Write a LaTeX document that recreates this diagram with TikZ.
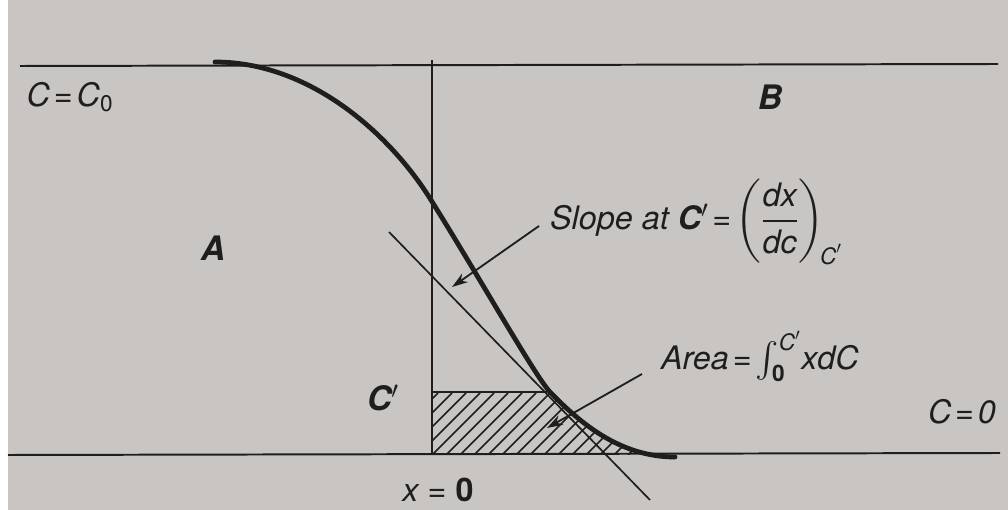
\documentclass[tikz,border=0pt]{standalone}
\usepackage{amsmath}
\usepackage{fontspec}
\setmainfont{TeX Gyre Heros}
\usetikzlibrary{arrows.meta,positioning}
\definecolor{paper}{HTML}{C9C5C2}
\definecolor{ink}{HTML}{1E1E1E}
\tikzset{
  >={Stealth[length=4mm,width=2.6mm]},
  rule/.style={draw=ink,line width=1.4pt},
  profile/.style={draw=ink,line width=3.4pt,line cap=round},
  tangentline/.style={draw=ink,line width=1.2pt},
  hatchline/.style={draw=ink,line width=1.1pt},
  pointer/.style={->,draw=ink,line width=1.3pt},
  lbl/.style={font=\fontsize{23}{27}\selectfont\itshape,text=ink,inner sep=2pt},
  bold lbl/.style={lbl,font=\fontsize{24}{28}\selectfont\bfseries\itshape}
}
\newcommand{\eqsign}{\hspace{0.12em}=\hspace{0.12em}}
\begin{document}
\begin{tikzpicture}[x=0.025cm,y=-0.025cm]
  \useasboundingbox (0,0) rectangle (1008,510);
  \fill[paper] (8,0) rectangle (1008,510);
  % frame lines and the x = 0 axis
  \coordinate (top-l) at (20,66);   \coordinate (top-r) at (998,64);
  \coordinate (bot-l) at (8,455);   \coordinate (bot-r) at (1000,453);
  \coordinate (axis-t) at (432,60); \coordinate (axis-b) at (432,455);
  \coordinate (cp) at (432,392);    \coordinate (cp-r) at (547,392);
  \coordinate (c-start) at (215,62); \coordinate (c-ax) at (431,200);
  \coordinate (c-tan) at (550,392); \coordinate (c-end) at (675,457);
  \coordinate (tan-a) at (389,232); \coordinate (tan-b) at (650,500);
  \draw[rule] (top-l) -- (top-r);
  \draw[rule] (bot-l) -- (bot-r);
  \draw[rule] (axis-t) -- (axis-b);
  % hatched area under the profile
  \begin{scope}
    \clip (cp) rectangle (700,455);
    \clip (c-ax) .. controls (481,280) and (535,376) .. (c-tan)
      .. controls (580,423) and (620,457) .. (c-end) -- (axis-b) -- cycle;
    \foreach \x in {376,390,...,700}
      \draw[hatchline] (\x,455) -- ++(62,-62);
  \end{scope}
  \draw[rule] (cp) -- (cp-r);
  \draw[tangentline] (tan-a) -- (tan-b);
  \draw[profile] (c-start) .. controls (310,62) and (390,134) .. (c-ax)
    .. controls (481,280) and (535,376) .. (c-tan)
    .. controls (580,423) and (620,457) .. (c-end);
  % labels
  \node[lbl] (c0) at (70,97) {C\eqsign C\textsubscript{\upshape 0}};
  \node[bold lbl] (b) at (770,97) {B};
  \node[bold lbl] (a) at (213,248) {A};
  \node[bold lbl] (cprime) at (383,398) {C$'$};
  \node[lbl] (czero) at (962,412) {C\eqsign 0};
  \node[lbl] (x0) at (438,490) {x = \textbf{\upshape 0}};
  \node[lbl,anchor=west] (slope) at (547,222)
    {Slope at \textbf{C}$'$\eqsign$\left(\dfrac{\textit{dx}}{\textit{dc}}\right)_{\!\textit{C}'}$};
  \node[lbl,anchor=west] (area) at (658,356)
    {Area\eqsign$\int_{\mathbf{0}}^{\textit{C}'}$\textit{xdC}};
  \coordinate (slope-tip) at (452,287);
  \coordinate (area-tip) at (547,428);
  \draw[pointer] ([shift={(-8,4)}]slope.west) -- (slope-tip);
  \draw[pointer] ([shift={(-16,18)}]area.west) -- (area-tip);
\end{tikzpicture}
\end{document}
